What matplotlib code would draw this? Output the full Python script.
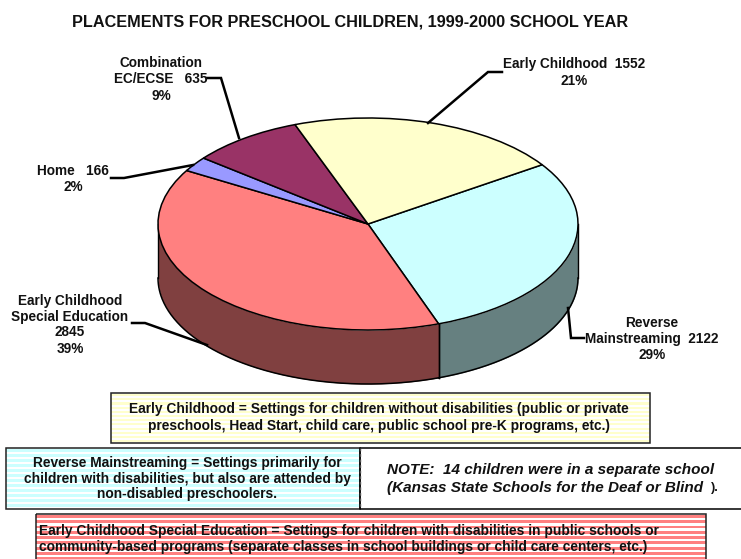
import numpy as np
import matplotlib
matplotlib.use("Agg")
import matplotlib.pyplot as plt
from matplotlib.patches import Rectangle

plt.rcParams['font.family'] = ['Liberation Sans', 'DejaVu Sans']

# ---- data (pie order, clockwise from the right-hand side) ----
categories = ["Reverse Mainstreaming", "Early Childhood Special Education", "Home",
              "Combination EC/ECSE", "Early Childhood"]
counts = [2122, 2845, 166, 635, 1552]
top_colors = ["#CCFFFF", "#FF8080", "#9999FF", "#993366", "#FFFFCC"]
side_colors = ["#668080", "#804040", "#4D4D80", "#4D1A33", "#808066"]

title_text = "PLACEMENTS FOR PRESCHOOL CHILDREN, 1999-2000 SCHOOL YEAR"
W, H = 741, 559
fig = plt.figure(figsize=(W / 100, H / 100), dpi=100, facecolor="white")

# page axes in pixel coordinates (annotation layer)
page = fig.add_axes([0, 0, 1, 1], zorder=3)
page.set_xlim(0, W); page.set_ylim(H, 0); page.axis("off"); page.patch.set_alpha(0)

# pie axes: unit circle squashed into the ellipse
cx, cy, rx, ry = 368, 224, 210, 106
depth_px = 54
pie_ax = fig.add_axes([(cx - rx) / W, 1 - (cy + ry) / H, 2 * rx / W, 2 * ry / H], zorder=2)
start = 34
wedges, _ = pie_ax.pie(counts, colors=top_colors, startangle=start, counterclock=False,
                       radius=1, wedgeprops=dict(edgecolor="black", linewidth=1.1, zorder=5))
pie_ax.set_aspect("auto")
pie_ax.set_xlim(-1, 1); pie_ax.set_ylim(-1, 1)
pie_ax.axis("off")
for w in wedges:
    w.set_clip_on(False)

# extruded side from the same values
d = depth_px / ry
a = start
for val, col in zip(counts, side_colors):
    sweep = val / sum(counts) * 360
    a0, a1 = a - sweep, a
    a = a0
    # visible front half runs from 180 to 360 degrees
    for lo, hi in ((a0, a1), (a0 + 360, a1 + 360)):
        l, h = max(lo, 180), min(hi, 360)
        if h > l:
            t = np.radians(np.linspace(l, h, 200))
            x, y = np.cos(t), np.sin(t)
            pie_ax.fill_between(x, y, y - d, color=col, lw=0, zorder=1, clip_on=False)
            pie_ax.plot(x, y - d, color="black", lw=1.1, zorder=2, clip_on=False)
            pie_ax.plot([x[0], x[0]], [y[0], y[0] - d], color="black", lw=1.0, zorder=2, clip_on=False)
            pie_ax.plot([x[-1], x[-1]], [y[-1], y[-1] - d], color="black", lw=1.0, zorder=2, clip_on=False)

FS = 9.8
bold = dict(fontweight="bold", ha="center", va="center", color="#111111")

page.text(350.5, 22, title_text, fontsize=11.7, **bold)

# slice labels
page.text(161, 63, "Combination", fontsize=FS, **bold)
page.text(161, 79, "EC/ECSE   635", fontsize=FS, **bold)
page.text(161, 96, "9%", fontsize=FS, **bold)
page.text(73, 171, "Home   166", fontsize=FS, **bold)
page.text(73, 187, "2%", fontsize=FS, **bold)
page.text(574, 64, "Early Childhood  1552", fontsize=FS, **bold)
page.text(574, 81, "21%", fontsize=FS, **bold)
for yy, s in zip((301, 317, 332, 349), ("Early Childhood", "Special Education", "2845", "39%")):
    page.text(70, yy, s, fontsize=FS, **bold)
for yy, s in zip((323, 339, 355), ("Reverse", "Mainstreaming  2122", "29%")):
    page.text(652, yy, s, fontsize=FS, **bold)

# leader lines
leaders = [[(207, 78), (221, 78), (239, 138)],
           [(111, 178), (124, 178), (193, 165)],
           [(502, 72), (488, 72), (428, 123)],
           [(132, 323), (145, 323), (207, 345)],
           [(568, 308), (571, 338), (584, 338)]]
for pts in leaders:
    px, py = zip(*pts)
    page.plot(px, py, color="black", lw=1.8, solid_joinstyle="miter")


def stripe_box(x0, y0, x1, y1, color, period, bar):
    page.add_patch(Rectangle((x0, y0), x1 - x0, y1 - y0, fc="white", ec="none", zorder=1))
    for yy in np.arange(y0 + 1, y1, period):
        page.add_patch(Rectangle((x0, yy), x1 - x0, min(bar, y1 - yy), fc=color, ec="none", zorder=1))
    page.add_patch(Rectangle((x0, y0), x1 - x0, y1 - y0, fc="none", ec="#222222", lw=1.1, zorder=2))


stripe_box(110.5, 393, 650, 443, "#FFFFCC", 4.2, 2.1)
stripe_box(6, 448, 360, 509, "#CCFFFF", 5, 2.5)
stripe_box(36, 514, 706, 562, "#FF8080", 5.3, 2.8)

# note box
page.plot([745, 360, 360, 745], [448, 448, 509, 509], color="black", lw=1.1, zorder=2)
page.plot([360, 360], [448, 509], color="#555555", lw=1.0, ls=(0, (2, 2)), zorder=3)

BF = 9.9
page.text(379, 409, "Early Childhood = Settings for children without disabilities (public or private", fontsize=BF, zorder=4, **bold)
page.text(379, 426, "preschools, Head Start, child care, public school pre-K programs, etc.)", fontsize=BF, zorder=4, **bold)
for yy, s in zip((463, 479, 494), ("Reverse Mainstreaming = Settings primarily for",
                                   "children with disabilities, but also are attended by",
                                   "non-disabled preschoolers.")):
    page.text(187, yy, s, fontsize=BF, zorder=4, **bold)
lft = dict(fontweight="bold", ha="left", va="center", color="#111111", zorder=4)
page.text(39, 531, "Early Childhood Special Education = Settings for children with disabilities in public schools or", fontsize=BF, **lft)
page.text(39, 547, "community-based programs (separate classes in school buildings or child care centers, etc.)", fontsize=BF, **lft)
page.text(387, 470, "NOTE:  14 children were in a separate school", fontsize=11, style="italic", **lft)
page.text(387, 488, "(Kansas State Schools for the Deaf or Blind", fontsize=11, style="italic", **lft)
page.text(711, 488, ").", fontsize=9, **lft)

fig.savefig("out.png", dpi=100)
